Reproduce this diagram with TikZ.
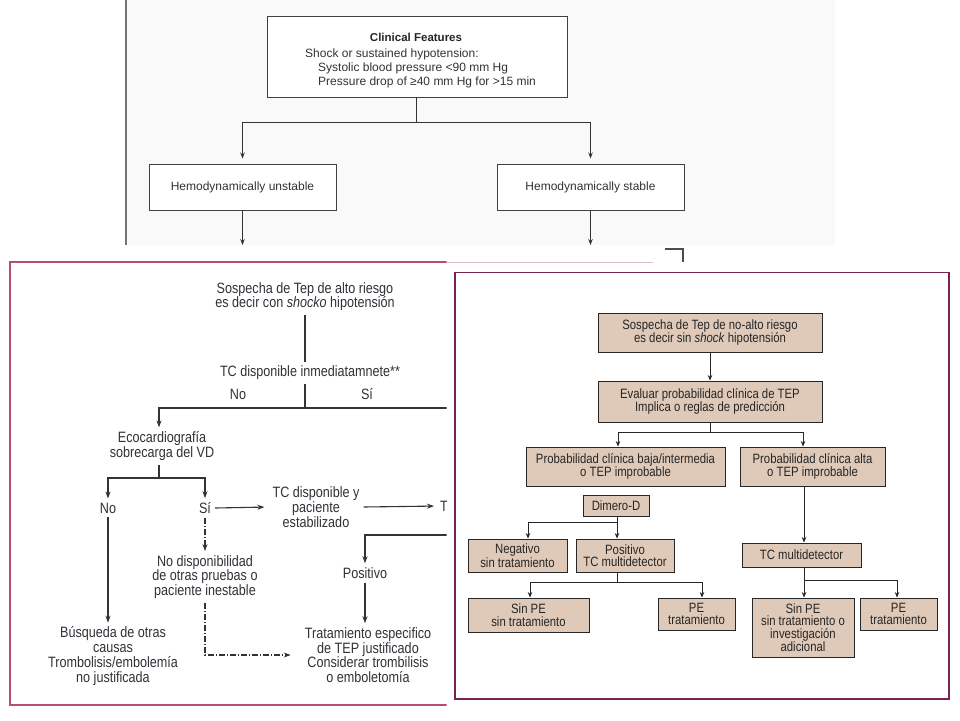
\documentclass[tikz,border=0pt]{standalone}
\usepackage{fontspec}
\setmainfont{Liberation Sans}
\newfontfamily\condfont[FakeStretch=0.84]{Liberation Sans}
\newfontfamily\nejmfont{Liberation Sans}
\usetikzlibrary{arrows.meta,positioning,calc}
\definecolor{topgray}{HTML}{F9F9F9}
\definecolor{leftframe}{HTML}{B4506E}
\definecolor{rightframe}{HTML}{7B2150}
\definecolor{boxtan}{HTML}{DFC9B8}
\definecolor{lefttext}{HTML}{353038}
\definecolor{righttext}{HTML}{262626}
\tikzstyle{nejmbox} = [rectangle, draw=black!75, fill=white, line width=1pt, inner sep=0pt, font=\nejmfont\fontsize{12}{14}\selectfont, text=black!80]
\tikzstyle{nejmtxt} = [anchor=west, inner sep=0pt, font=\nejmfont\fontsize{12}{14}\selectfont, text=black!80]
\tikzstyle{arrowT} = [line width=0.9pt, black!80, -{Stealth[length=6pt,width=4.5pt]}]
\tikzstyle{txt} = [align=center, inner sep=4pt, font=\condfont\fontsize{15}{14.7}\selectfont, text=lefttext]
\tikzstyle{lineL} = [line width=1.1pt, black!80]
\tikzstyle{arrowL} = [line width=1.1pt, black!80, -{Stealth[length=7pt,width=5pt]}]
\tikzstyle{dashL} = [dash pattern=on 6pt off 2pt on 1pt off 2pt]
\tikzstyle{tanbox} = [rectangle, draw=black!85, fill=boxtan, line width=0.9pt, align=center, inner sep=0pt, font=\condfont\fontsize{13.5}{12.5}\selectfont, text=righttext]
\tikzstyle{arrowR} = [line width=0.9pt, black!85, -{Stealth[length=5.5pt,width=4.5pt]}]

\begin{document}
\begin{tikzpicture}[x=1pt,y=-1pt]
\useasboundingbox (0,0) rectangle (960,720);
\fill[white] (0,0) rectangle (960,720);

% OBEN: Clinical Features (NEJM)
\fill[topgray] (126,0) rectangle (835,245);
\draw[black!55, line width=1.2pt] (126,0) -- (126,245);
\node (clin) [nejmbox, minimum width=300, minimum height=81] at (417,56.5) {};
\node (clinT) [inner sep=0pt, font=\nejmfont\bfseries\fontsize{11.5}{13}\selectfont, text=black!85] at (416,37) {Clinical Features};
\node (clin1) [nejmtxt] at (305,54) {Shock or sustained hypotension:};
\node (clin2) [nejmtxt] at (318,68) {Systolic blood pressure <90 mm Hg};
\node (clin3) [nejmtxt] at (318,82) {Pressure drop of ≥40 mm Hg for >15 min};
\node (unst) [nejmbox, minimum width=187, minimum height=46] at (242.5,187) {Hemodynamically unstable};
\node (stab) [nejmbox, minimum width=187, minimum height=46] at (590.5,187) {Hemodynamically stable};
\coordinate (jTop) at (416,122);
\coordinate (unstEnd) at (242.5,245);
\coordinate (stabEnd) at (590.5,245);
\draw[line width=0.9pt, black!80] (clin.south -| jTop) -- (jTop);
\draw[arrowT, shorten >=5pt] (jTop) -| (unst.north);
\draw[arrowT, shorten >=5pt] (jTop) -| (stab.north);
\draw[arrowT] (unst.south) -- (unstEnd);
\draw[arrowT] (stab.south) -- (stabEnd);
\draw[black!70, line width=1.2pt] (665,249) -- (683,249) -- (683,262);
\draw[leftframe!40, line width=1pt] (447,262) -- (653,262);

% LINKS: alto riesgo
\begin{scope}
\clip (0,250) rectangle (446.5,720);
\draw[leftframe, line width=1.4pt, fill=white] (10,262) rectangle (470,705);
\node (sospA) [txt] at (305,296.5) {Sospecha de Tep de alto riesgo\\es decir con \textit{shocko} hipotensión};
\node (tcA) [txt] at (310,373) {TC disponible inmediatamnete**};
\node (noA) [txt] at (238,394) {No};
\node (siA) [txt] at (367,394) {Sí};
\node (eco) [txt] at (162,446) {Ecocardiografía\\sobrecarga del VD};
\node (noB) [txt] at (108,508) {No};
\node (siB) [txt] at (205,508) {Sí};
\node (tcB) [txt] at (316,507) {TC disponible y\\paciente\\estabilizado};
\node (tcut) [txt, anchor=west, inner sep=0pt] at (440,506) {T};
\node (posA) [txt] at (365,573) {Positivo};
\node (noDisp) [txt] at (205,577) {No disponibilidad\\de otras pruebas o\\paciente inestable};
\node (busq) [txt] at (113,656) {Búsqueda de otras\\causas\\Trombolisis/embolemía\\no justificada};
\node (tratA) [txt] at (368,655) {Tratamiento especifico\\de TEP justificado\\Considerar trombilisis\\o emboletomía};
\coordinate (jA) at (305,408);
\coordinate (jAr) at (470,408);
\coordinate (jB) at (159,478);
\coordinate (jC) at (470,535);
\draw[lineL] (sospA.south -| jA) -- (jA |- tcA.north);
\draw[lineL] (jA |- tcA.south) -- (jA);
\draw[arrowL] (jAr) -| ([xshift=-3pt]eco.north);
\draw[lineL] ([xshift=-3pt]eco.south) -- (jB);
\draw[arrowL] (jB) -| (noB.north);
\draw[arrowL] (jB) -| (siB.north);
\draw[arrowL, shorten >=4pt] (siB.east) -- (tcB.west);
\draw[arrowL, shorten >=6pt] (tcB.east) -- (tcut.west);
\draw[arrowL] (jC) -| (posA.north);
\draw[arrowL] (posA.south) -- (posA.south |- tratA.north);
\draw[arrowL] (noB.south) -- (noB.south |- busq.north);
\draw[arrowL, dashL] (siB.south) -- (noDisp.north);
\draw[arrowL, dashL, shorten >=10pt] (noDisp.south) |- (tratA.west);
\end{scope}

% RECHTS: no-alto riesgo
\draw[rightframe, line width=1.4pt, fill=white] (455,272.5) rectangle (949,699);
\node (b1) [tanbox, minimum width=224, minimum height=39] at (710,332.5) {Sospecha de Tep de no-alto riesgo\\es decir sin \textit{shock} hipotensión};
\node (b2) [tanbox, minimum width=224, minimum height=41] at (710,401.5) {Evaluar probabilidad clínica de TEP\\Implica o reglas de predicción};
\node (b3) [tanbox, minimum width=199, minimum height=39] at (625.5,466.5) {Probabilidad clínica baja/intermedia\\o TEP improbable};
\node (b4) [tanbox, minimum width=145, minimum height=39] at (812.5,466.5) {Probabilidad clínica alta\\o TEP improbable};
\node (dim) [tanbox, minimum width=66, minimum height=21] at (616,505.5) {Dimero-D};
\node (neg) [tanbox, minimum width=99, minimum height=33] at (517.5,555.5) {Negativo\\sin tratamiento};
\node (pos) [tanbox, minimum width=98, minimum height=33] at (625,555.5) {Positivo\\TC multidetector};
\node (sin1) [tanbox, minimum width=121, minimum height=34] at (528.5,615) {Sin PE\\sin tratamiento};
\node (pe1) [tanbox, minimum width=77, minimum height=32] at (696.5,614) {PE\\tratamiento};
\node (tcm) [tanbox, minimum width=119, minimum height=24] at (801.5,555) {TC multidetector};
\node (sin2) [tanbox, minimum width=102, minimum height=59] at (803,627.5) {Sin PE\\sin tratamiento o\\investigación\\adicional};
\node (pe2) [tanbox, minimum width=77, minimum height=32] at (898.5,614) {PE\\tratamiento};
\coordinate (jR1) at (710,432);
\coordinate (jR2) at (617,522);
\coordinate (jR3) at (617,582);
\coordinate (jR4) at (804,580);
\draw[arrowR] (b1.south) -- (b2.north);
\draw[arrowR] (b2.south) -- (jR1) -| ([xshift=-7.5pt]b3.north);
\draw[arrowR] (jR1) -| ([xshift=-9.5pt]b4.north);
\draw[line width=0.9pt, black!85] (jR2 |- dim.south) -- (jR2);
\draw[arrowR] (jR2) -| ([xshift=10.5pt]neg.north);
\draw[arrowR] (jR2) -- (jR2 |- pos.north);
\draw[line width=0.9pt, black!85] (jR3 |- pos.south) -- (jR3);
\draw[arrowR] (jR3) -| ([xshift=1.5pt]sin1.north);
\draw[arrowR] (jR3) -| ([xshift=5.5pt]pe1.north);
\draw[arrowR] (jR4 |- b4.south) -- (jR4 |- tcm.north);
\draw[line width=0.9pt, black!85] (jR4 |- tcm.south) -- (jR4);
\draw[arrowR] (jR4) -- (jR4 |- sin2.north);
\draw[arrowR] (jR4) -| ([xshift=-1.5pt]pe2.north);

\end{tikzpicture}
\end{document}
